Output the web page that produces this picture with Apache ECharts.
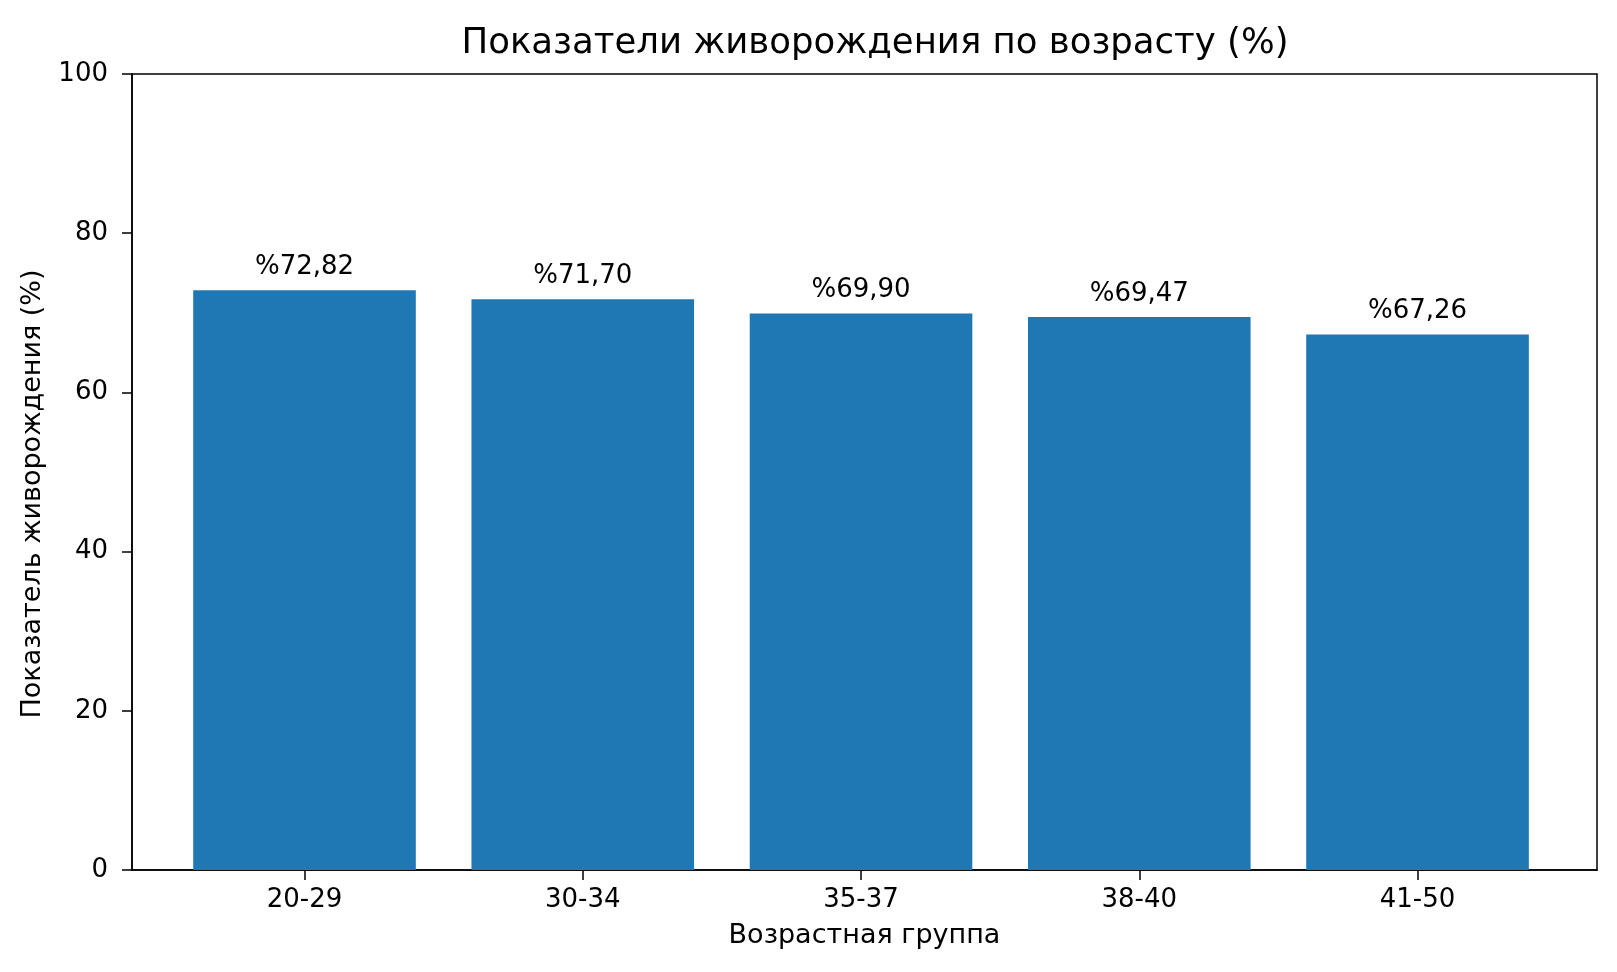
<!DOCTYPE html>
<html>
<head>
<meta charset="utf-8">
<script src="https://cdn.jsdelivr.net/npm/echarts@6/dist/echarts.min.js"></script>
<style>
  html, body { margin: 0; padding: 0; background: #fff; }
  #chart { width: 1617px; height: 972px; }
</style>
</head>
<body>
<div id="chart"></div>
<script>
const ageGroups = ['20-29', '30-34', '35-37', '38-40', '41-50']
const liveBirthRates = [72.82, 71.70, 69.90, 69.47, 67.26]
const yTicks = [0, 20, 40, 60, 80, 100]

const font = 'DejaVu Sans'
const gridLeft = 132
const gridRight = 20
const gridW = 1617 - gridLeft - gridRight
// x range around the bar positions (bars are 0.8 wide)
const xMin = -0.62
const xMax = ageGroups.length - 1 + 0.645
const barPx = 0.8 * gridW / (xMax - xMin)

const chart = echarts.init(document.getElementById('chart'))
chart.setOption({
	backgroundColor: '#fff',
	animation: false,
	title: {
		text: 'Показатели живорождения по возрасту (%)',
		left: 870,
		top: 21,
		textAlign: 'center',
		textStyle: { fontFamily: font, fontSize: 35.5, fontWeight: 'normal', color: '#000' }
	},
	grid: {
		left: gridLeft,
		right: gridRight,
		top: 74,
		bottom: 102,
		show: true,
		borderColor: '#000',
		borderWidth: 1.5,
		backgroundColor: 'transparent'
	},
	xAxis: {
		type: 'value',
		min: xMin,
		max: xMax,
		name: 'Возрастная группа',
		nameLocation: 'middle',
		nameGap: 52,
		nameTextStyle: { fontFamily: font, fontSize: 27, color: '#000' },
		axisLine: { show: true, onZero: false, lineStyle: { color: '#000', width: 1.5 } },
		axisTick: { show: true, length: 10, lineStyle: { color: '#000', width: 1.5 }, customValues: ageGroups.map((g, i) => i) },
		axisLabel: {
			customValues: ageGroups.map((g, i) => i),
			formatter: v => ageGroups[Math.round(v)],
			fontFamily: font,
			fontSize: 26,
			color: '#000',
			margin: 17
		},
		splitLine: { show: false }
	},
	yAxis: {
		type: 'value',
		min: 0,
		max: 100,
		interval: 20,
		name: 'Показатель живорождения (%)',
		nameLocation: 'middle',
		nameGap: 86,
		nameTextStyle: { fontFamily: font, fontSize: 27, color: '#000', padding: [0, 44, 0, 0] },
		axisLine: { show: true, onZero: false, lineStyle: { color: '#000', width: 1.5 } },
		axisTick: { show: true, length: 10, lineStyle: { color: '#000', width: 1.5 } },
		axisLabel: {
			fontFamily: font,
			fontSize: 26,
			color: '#000',
			margin: 24
		},
		splitLine: { show: false }
	},
	series: [
		{
			type: 'bar',
			barWidth: barPx,
			itemStyle: { color: '#1f77b4' },
			label: {
				show: true,
				position: 'top',
				distance: 10,
				fontFamily: font,
				fontSize: 26,
				color: '#000',
				formatter: p => '%' + p.value[1].toFixed(2).replace('.', ',')
			},
			data: liveBirthRates.map((v, i) => [i, v])
		}
	]
})
</script>
</body>
</html>
